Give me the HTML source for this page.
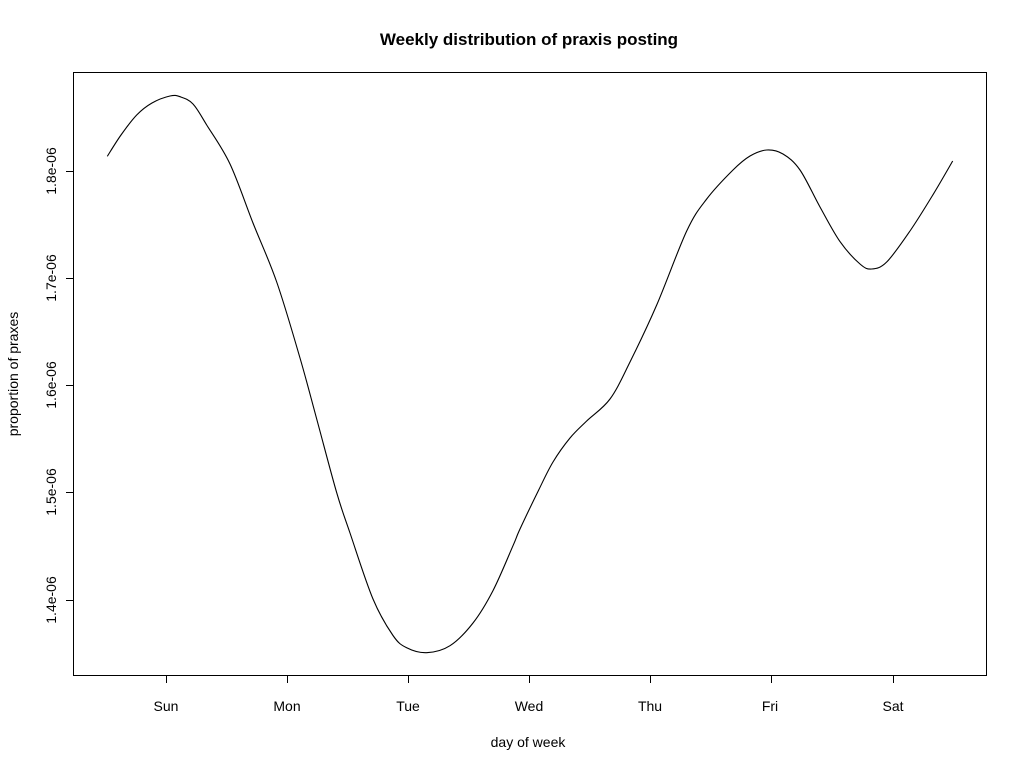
<!DOCTYPE html>
<html><head><style>body{margin:0;background:#fff}svg{display:block}</style></head><body>
<svg width="1024" height="768" xmlns="http://www.w3.org/2000/svg" font-family="Liberation Sans, Arial, sans-serif">
<rect width="1024" height="768" fill="#fff"/>
<text x="529" y="45" text-anchor="middle" font-weight="bold" font-size="17">Weekly distribution of praxis posting</text>
<rect x="73.5" y="72.5" width="913" height="603" fill="none" stroke="#000" stroke-width="1"/>
<g stroke="#000" stroke-width="1">
<line x1="166.5" y1="676" x2="166.5" y2="683"/><line x1="287.5" y1="676" x2="287.5" y2="683"/>
<line x1="408.5" y1="676" x2="408.5" y2="683"/><line x1="529.5" y1="676" x2="529.5" y2="683"/>
<line x1="650.5" y1="676" x2="650.5" y2="683"/><line x1="771.5" y1="676" x2="771.5" y2="683"/>
<line x1="893.5" y1="676" x2="893.5" y2="683"/>
<line x1="66" y1="171.5" x2="73" y2="171.5"/><line x1="66" y1="278.5" x2="73" y2="278.5"/>
<line x1="66" y1="385.5" x2="73" y2="385.5"/><line x1="66" y1="492.5" x2="73" y2="492.5"/>
<line x1="66" y1="600.5" x2="73" y2="600.5"/>
</g>
<g font-size="14" text-anchor="middle">
<text x="166" y="711">Sun</text><text x="287" y="711">Mon</text><text x="408" y="711">Tue</text>
<text x="529" y="711">Wed</text><text x="650" y="711">Thu</text><text x="770" y="711">Fri</text>
<text x="893" y="711">Sat</text>
<text x="528" y="747">day of week</text>
<text transform="translate(56,171) rotate(-90)">1.8e-06</text>
<text transform="translate(56,278) rotate(-90)">1.7e-06</text>
<text transform="translate(56,385) rotate(-90)">1.6e-06</text>
<text transform="translate(56,492) rotate(-90)">1.5e-06</text>
<text transform="translate(56,600) rotate(-90)">1.4e-06</text>
<text transform="translate(18,374) rotate(-90)">proportion of praxes</text>
</g>
<path id="crv" fill="none" stroke="#000" stroke-width="1.1" d="M107.3,156.3 L121,135 136.7,115 152,103 170,96 180,96.7 193,104 206.7,125 230,164 253,223 276.7,282 300,358 316.7,419 336.7,492.7 350,533 373,599 393,635.5 406.7,647.8 426.7,652.7 450,645.7 473,623 493,590.6 513,545.7 520,529 538.7,490 553,462 570,438 586.7,421 610,399 630,362 656.7,305 686.7,231 706.7,199 733,170 750,156 766.7,150 783,154 800,170 820,207 840,241.6 860,264 871.7,269 886.7,262 910,231 933,194.7 952.7,161"/>
</svg>
<script>
(function(){
var p=[[107.3,156.3],[121,135],[136.7,115],[152,103],[170,96],[180,96.7],[193,104],[206.7,125],[230,164],[253,223],[276.7,282],[300,358],[316.7,419],[336.7,492.7],[350,533],[373,599],[393,635.5],[406.7,647.8],[426.7,652.7],[450,645.7],[473,623],[493,590.6],[513,545.7],[520,529],[538.7,490],[553,462],[570,438],[586.7,421],[610,399],[630,362],[656.7,305],[686.7,231],[706.7,199],[733,170],[750,156],[766.7,150],[783,154],[800,170],[820,207],[840,241.6],[860,264],[871.7,269],[886.7,262],[910,231],[933,194.7],[952.7,161]];
var d="M"+p[0][0]+","+p[0][1];
for(var i=0;i<p.length-1;i++){
var a=p[Math.max(i-1,0)],b=p[i],c=p[i+1],e=p[Math.min(i+2,p.length-1)];
var c1x=b[0]+(c[0]-a[0])/6,c1y=b[1]+(c[1]-a[1])/6,c2x=c[0]-(e[0]-b[0])/6,c2y=c[1]-(e[1]-b[1])/6;
d+=" C"+c1x.toFixed(2)+","+c1y.toFixed(2)+" "+c2x.toFixed(2)+","+c2y.toFixed(2)+" "+c[0]+","+c[1];
}
document.getElementById("crv").setAttribute("d",d);
})();
</script>
</body></html>
